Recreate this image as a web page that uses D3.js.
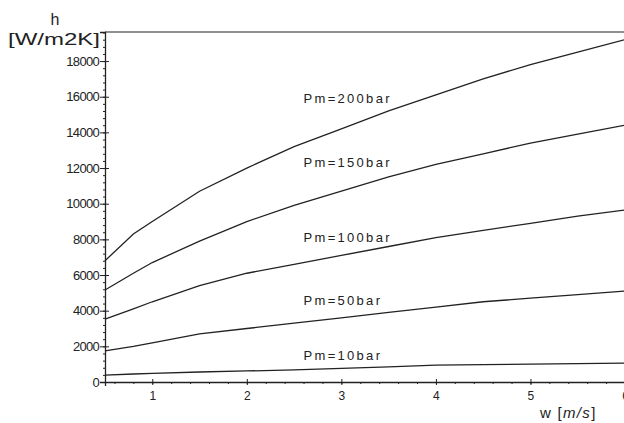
<!DOCTYPE html>
<html>
<head>
<meta charset="utf-8">
<script src="https://cdn.jsdelivr.net/npm/d3@7"></script>
<style>
body { margin: 0; background: #fff; }
svg { display: block; font-family: "Liberation Sans", Arial, sans-serif; }
</style>
</head>
<body>
<script>
// velocity values w [m/s]
const speeds = [0.5, 0.8, 1, 1.5, 2, 2.5, 3, 3.5, 4, 4.5, 5, 5.5, 6]

// heat transfer coefficient h [W/m2K] per pressure
const h200 = [6800, 8300, 9000, 10700, 12000, 13200, 14200, 15200, 16100, 17000, 17800, 18500, 19200]
const h150 = [5160, 6100, 6700, 7900, 9000, 9900, 10700, 11500, 12200, 12800, 13400, 13900, 14400]
const h100 = [3530, 4100, 4500, 5400, 6100, 6600, 7100, 7600, 8100, 8500, 8900, 9300, 9650]
const h50 = [1740, 2000, 2200, 2700, 3000, 3300, 3600, 3900, 4200, 4500, 4700, 4900, 5100]
const h10 = [390, 450, 480, 560, 620, 680, 760, 850, 950, 980, 1000, 1030, 1060]

const seriesNames = ['Pm=200bar', 'Pm=150bar', 'Pm=100bar', 'Pm=50bar', 'Pm=10bar']
const seriesValues = [h200, h150, h100, h50, h10]
// where each label starts (w, h)
const labelPos = [[2.6, 15650], [2.6, 12060], [2.6, 7850], [2.6, 4320], [2.6, 1234]]

const yTicks = [0, 2000, 4000, 6000, 8000, 10000, 12000, 14000, 16000, 18000]
const xTicks = [1, 2, 3, 4, 5, 6]

const width = 624
const height = 423
const margin = {top: 32, left: 105}
const ink = '#222'

const svg = d3.select('body')
    .append('svg')
    .attr('width', width)
    .attr('height', height)

const xScale = d3.scaleLinear()
    .domain([0.5, 6])
    .range([margin.left, 625])

const yScale = d3.scaleLinear()
    .domain([0, 19630])
    .range([382, margin.top])

// frame top line
svg.append('line')
    .attr('x1', xScale(0.5)).attr('x2', width)
    .attr('y1', yScale(19630)).attr('y2', yScale(19630))
    .attr('stroke', ink).attr('stroke-width', 1.2)

// minor ticks
const yMinor = d3.range(0, 19601, 400)
svg.append('g')
    .attr('transform', `translate(${margin.left},0)`)
    .call(d3.axisLeft(yScale).tickValues(yMinor).tickSize(2).tickFormat(''))
    .call(g => g.select('.domain').remove())
    .selectAll('line').attr('stroke', ink)

const xMinor = d3.range(0.6, 6.01, 0.2)
svg.append('g')
    .attr('transform', 'translate(0,382)')
    .call(d3.axisBottom(xScale).tickValues(xMinor).tickSize(2).tickFormat(''))
    .call(g => g.select('.domain').remove())
    .selectAll('line').attr('stroke', ink)

// y axis
const yAxis = svg.append('g')
    .attr('transform', `translate(${margin.left},0)`)
    .call(d3.axisLeft(yScale).tickValues(yTicks).tickSize(5).tickPadding(1).tickFormat(d3.format('d')))
yAxis.select('.domain').attr('stroke', ink).attr('stroke-width', 1.3)
yAxis.selectAll('.tick line').attr('x1', -5).attr('x2', 4).attr('stroke', ink)
yAxis.selectAll('.tick text')
    .attr('fill', ink)
    .style('font-size', '13px')
    .attr('letter-spacing', '-0.7px')

// x axis
const xAxis = svg.append('g')
    .attr('transform', 'translate(0,382)')
    .call(d3.axisBottom(xScale).tickValues(xTicks).tickSize(4).tickPadding(5).tickFormat(d3.format('d')))
xAxis.select('.domain').attr('stroke', ink).attr('stroke-width', 1.3)
xAxis.selectAll('.tick line').attr('y1', -3).attr('y2', 3).attr('stroke', ink)
xAxis.selectAll('.tick text')
    .attr('fill', ink)
    .style('font-size', '12px')

// axis titles
svg.append('text')
    .attr('x', 55).attr('y', 25)
    .attr('text-anchor', 'middle')
    .attr('fill', ink)
    .style('font-size', '16px')
    .text('h')
svg.append('text')
    .attr('x', 8).attr('y', 45)
    .attr('fill', ink)
    .style('font-size', '16px')
    .attr('textLength', 92)
    .attr('lengthAdjust', 'spacingAndGlyphs')
    .text('[W/m2K]')

const xTitle = svg.append('text')
    .attr('x', 540).attr('y', 418)
    .attr('fill', ink)
    .style('font-size', '15px')
    .attr('letter-spacing', '1.3px')
xTitle.append('tspan').text('w [')
xTitle.append('tspan').style('font-style', 'italic').text('m/s')
xTitle.append('tspan').text(']')

// curves
const line = d3.line()
    .x((d, i) => xScale(speeds[i]))
    .y(d => yScale(d))

svg.selectAll('path.curve')
    .data(seriesValues)
    .enter()
    .append('path')
    .attr('class', 'curve')
    .attr('d', d => line(d))
    .attr('fill', 'none')
    .attr('stroke', ink)
    .attr('stroke-width', 1.3)

svg.selectAll('text.lbl')
    .data(seriesNames)
    .enter()
    .append('text')
    .attr('class', 'lbl')
    .attr('x', (d, i) => xScale(labelPos[i][0]))
    .attr('y', (d, i) => yScale(labelPos[i][1]))
    .attr('fill', ink)
    .style('font-size', '13px')
    .attr('letter-spacing', '2.3px')
    .text(d => d)
</script>
</body>
</html>
